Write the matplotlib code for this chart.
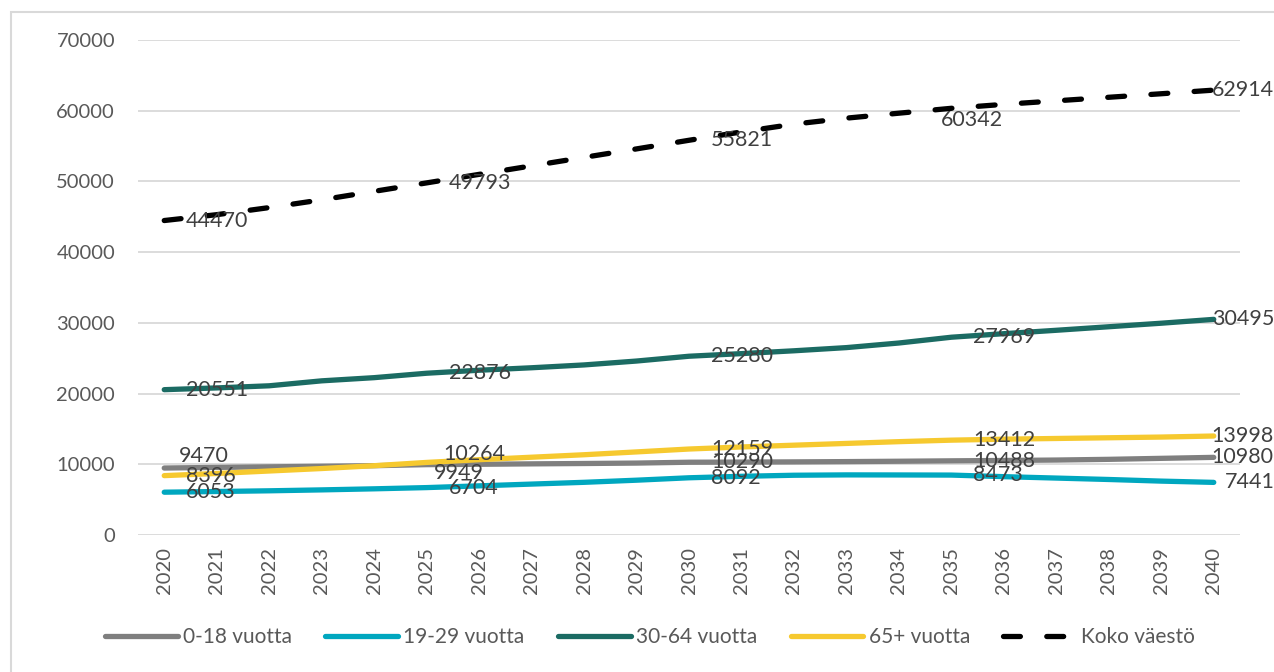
"""Population projection 2020-2040 by age group (line chart)"""

import matplotlib
matplotlib.use("Agg")
import matplotlib.pyplot as plt
from matplotlib.patches import Rectangle

plt.rcParams['font.family'] = ['Lato', 'DejaVu Sans']

# Data
years = [str(y) for y in range(2020, 2041)]
series_names = ['0-18 vuotta', '19-29 vuotta', '30-64 vuotta', '65+ vuotta', 'Koko väestö']

age_0_18 = [9470, 9560, 9640, 9720, 9800, 9949, 10000, 10060, 10110, 10170, 10290,
            10310, 10340, 10380, 10430, 10488, 10540, 10600, 10700, 10840, 10980]
age_19_29 = [6053, 6150, 6250, 6380, 6530, 6704, 6950, 7200, 7450, 7750, 8092,
             8300, 8450, 8500, 8490, 8473, 8250, 8050, 7850, 7620, 7441]
age_30_64 = [20551, 20800, 21100, 21800, 22250, 22876, 23300, 23650, 24050, 24600, 25280,
             25650, 26050, 26500, 27150, 27969, 28470, 28950, 29450, 29950, 30495]
age_65 = [8396, 8700, 9050, 9400, 9800, 10264, 10650, 11000, 11350, 11750, 12159,
          12450, 12700, 12950, 13200, 13412, 13550, 13650, 13750, 13850, 13998]
total = [44470, 45300, 46300, 47400, 48600, 49793, 51000, 52200, 53400, 54600, 55821,
         57000, 58100, 58950, 59650, 60342, 60900, 61400, 61900, 62400, 62914]

# Which points carry a data label
label_idx = [0, 5, 10, 15, 20]

# Styles
colors = ['#7f7f7f', '#00a7bf', '#1b6b63', '#f6c92f', '#000000']
TICK_COLOR = '#595959'
LABEL_COLOR = '#404040'
GRID_COLOR = '#d9d9d9'

# Manual label nudges in pixels (dx, dy), default is right of the point
label_nudge = {
    (0, 0): (15, 12),
    (0, 5): (7, -8),
    (3, 5): (17, 8),
    (4, 15): (-11, -12),
    (1, 20): (11, 0),
}

fig = plt.figure(figsize=(12.74, 6.72), dpi=100)
ax = fig.add_axes([138 / 1274, 1 - 535 / 672, (1240 - 138) / 1274, (535 - 40) / 672])

# Chart frame
fig.patches.append(Rectangle((11 / 1274, -0.1), 1.2, 1 - 12 / 672 + 0.1, transform=fig.transFigure,
                             fill=False, edgecolor=GRID_COLOR, linewidth=1.5))

x = list(range(len(years)))
all_series = [age_0_18, age_19_29, age_30_64, age_65, total]

for s, (values, name, color) in enumerate(zip(all_series, series_names, colors)):
    if s == 4:
        ax.plot(x, values, color=color, linewidth=3.8, label=name,
                dashes=[3.2, 5.0], dash_capstyle='round', solid_capstyle='round', zorder=3 + s)
    else:
        ax.plot(x, values, color=color, linewidth=3.8, label=name,
                solid_capstyle='round', zorder=3 + s)

    # Data labels
    for i in label_idx:
        dx, dy = label_nudge.get((s, i), (0, 0) if i == 20 else (22, 0))
        if i == 20 and (s, i) not in label_nudge:
            dx = -2
        ax.annotate(str(values[i]), (x[i], values[i]), xytext=(dx, dy),
                    textcoords='offset pixels', ha='left', va='center',
                    fontsize=15.5, color=LABEL_COLOR, zorder=20, annotation_clip=False)

# Axes formatting
ax.set_xlim(-0.5, len(years) - 0.5)
ax.set_ylim(0, 70000)
ax.set_yticks(range(0, 70001, 10000))
ax.set_xticks(x)
ax.set_xticklabels(years, rotation=90, va='top', ha='center')
ax.tick_params(axis='both', length=0, colors=TICK_COLOR, labelsize=14.5)
ax.tick_params(axis='y', pad=16.5)
ax.tick_params(axis='x', pad=9)
ax.grid(True, axis='y', color=GRID_COLOR, linewidth=1.3)
ax.set_axisbelow(True)
for spine in ax.spines.values():
    spine.set_visible(False)

# Legend
fig.legend(loc='center', bbox_to_anchor=(650 / 1274, 1 - 637 / 672), ncol=5, frameon=False,
           fontsize=15, handlelength=3.5, handletextpad=0.25, columnspacing=1.6,
           labelcolor=TICK_COLOR)

plt.savefig('out.png', dpi=100, facecolor='white')
plt.close()
